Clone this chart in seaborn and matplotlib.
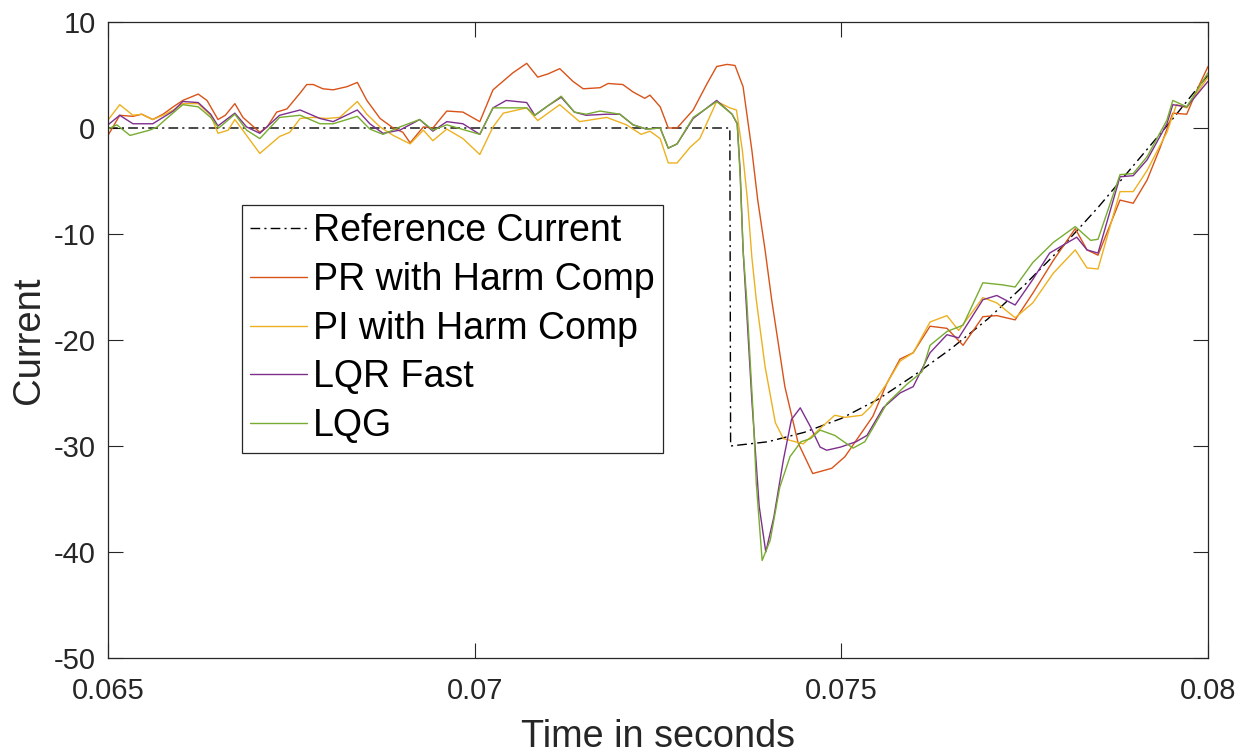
import matplotlib
matplotlib.use("Agg")
import matplotlib.pyplot as plt
import numpy as np
import pandas as pd
import seaborn as sns

# ---------------- data ----------------
t_ref = [0.06500, 0.07348, 0.07349, 0.07400, 0.07450, 0.07500, 0.07550, 0.07600,
         0.07650, 0.07700, 0.07750, 0.07800, 0.07850, 0.07900, 0.07950, 0.08000]
i_ref = [0.0, 0.0, -30.0, -29.6, -28.7, -27.4, -25.6, -23.3,
         -20.8, -18.0, -14.8, -11.3, -7.5, -3.4, 0.7, 5.0]

t_pr = [0.06500, 0.06516, 0.06534, 0.06546, 0.06561, 0.06575, 0.06589, 0.06602, 0.06623, 0.06635,
        0.06650, 0.06660, 0.06673, 0.06684, 0.06707, 0.06717, 0.06730, 0.06744, 0.06762, 0.06771,
        0.06780, 0.06793, 0.06807, 0.06826, 0.06840, 0.06853, 0.06871, 0.06889, 0.06902, 0.06912,
        0.06930, 0.06943, 0.06962, 0.06984, 0.07007, 0.07025, 0.07052, 0.07071, 0.07086, 0.07100,
        0.07116, 0.07134, 0.07148, 0.07171, 0.07182, 0.07202, 0.07216, 0.07232, 0.07239, 0.07253,
        0.07264, 0.07276, 0.07298, 0.07317, 0.07330, 0.07344, 0.07355, 0.07366, 0.07378, 0.07386,
        0.07396, 0.07405, 0.07423, 0.07441, 0.07461, 0.07487, 0.07505, 0.07532, 0.07543, 0.07562,
        0.07580, 0.07598, 0.07621, 0.07644, 0.07666, 0.07693, 0.07712, 0.07737, 0.07761, 0.07789,
        0.07819, 0.07835, 0.07850, 0.07880, 0.07898, 0.07917, 0.07935, 0.07952, 0.07971, 0.07985,
        0.08000]
i_pr = [-0.7, 1.2, 1.1, 1.3, 0.8, 1.3, 2.0, 2.6, 3.2, 2.6,
        0.8, 1.2, 2.3, 1.0, -0.4, 0.1, 1.5, 1.8, 3.3, 4.1,
        4.1, 3.7, 3.6, 3.9, 4.3, 2.6, 0.9, 0.0, -0.4, -1.4,
        0.1, 0.0, 1.6, 1.5, 0.6, 3.6, 5.2, 6.1, 4.8, 5.1,
        5.6, 4.4, 3.7, 3.8, 4.2, 4.1, 3.4, 2.8, 3.1, 2.0,
        0.0, 0.0, 1.7, 4.2, 5.8, 6.0, 5.9, 3.9, -2.1, -6.8,
        -11.5, -16.2, -24.4, -29.7, -32.6, -32.1, -31.0, -28.3, -27.2, -24.1,
        -21.8, -21.2, -18.7, -18.9, -20.5, -17.8, -17.7, -18.1, -15.6, -12.5,
        -9.5, -11.5, -12.0, -6.8, -7.1, -4.9, -1.8, 1.4, 1.3, 3.6,
        5.8]

t_pi = [0.06500, 0.06516, 0.06534, 0.06546, 0.06561, 0.06575, 0.06589, 0.06602, 0.06623, 0.06640,
        0.06650, 0.06664, 0.06673, 0.06689, 0.06707, 0.06734, 0.06748, 0.06762, 0.06780, 0.06798,
        0.06816, 0.06840, 0.06853, 0.06871, 0.06889, 0.06912, 0.06930, 0.06943, 0.06962, 0.06984,
        0.07007, 0.07025, 0.07039, 0.07071, 0.07086, 0.07116, 0.07143, 0.07180, 0.07207, 0.07227,
        0.07239, 0.07253, 0.07264, 0.07276, 0.07294, 0.07307, 0.07330, 0.07348, 0.07357, 0.07365,
        0.07372, 0.07378, 0.07384, 0.07396, 0.07410, 0.07421, 0.07448, 0.07491, 0.07505, 0.07528,
        0.07540, 0.07562, 0.07580, 0.07598, 0.07621, 0.07644, 0.07660, 0.07693, 0.07712, 0.07737,
        0.07761, 0.07789, 0.07819, 0.07835, 0.07850, 0.07880, 0.07898, 0.07917, 0.07944, 0.07957,
        0.07971, 0.08000]
i_pi = [0.75, 2.2, 1.2, 1.3, 0.8, 1.2, 1.7, 2.3, 2.3, 1.2,
        -0.5, -0.2, 0.8, -0.7, -2.4, -0.8, -0.4, 0.9, 1.0, 0.9,
        1.0, 2.5, 1.3, 0.1, -0.7, -1.5, -0.2, -1.2, -0.1, -1.0,
        -2.5, 0.1, 1.4, 1.9, 0.7, 2.2, 0.6, 1.0, 0.3, -0.6,
        -0.3, -1.0, -3.3, -3.3, -1.8, -1.0, 2.5, 1.9, 1.7, -2.1,
        -6.8, -12.2, -16.2, -22.5, -27.8, -29.3, -29.8, -27.1, -27.3, -27.1,
        -26.3, -24.1, -22.0, -21.2, -18.3, -17.7, -19.1, -16.0, -16.5, -17.9,
        -16.5, -13.7, -11.5, -13.2, -13.3, -6.0, -6.0, -4.0, -0.4, 2.2,
        1.9, 4.8]

t_lqr = [0.06500, 0.06516, 0.06534, 0.06561, 0.06575, 0.06589, 0.06602, 0.06623, 0.06640, 0.06650,
         0.06673, 0.06689, 0.06707, 0.06734, 0.06762, 0.06789, 0.06807, 0.06840, 0.06857, 0.06875,
         0.06898, 0.06925, 0.06943, 0.06962, 0.06984, 0.07007, 0.07025, 0.07043, 0.07071, 0.07082,
         0.07100, 0.07118, 0.07136, 0.07152, 0.07180, 0.07198, 0.07216, 0.07234, 0.07253, 0.07264,
         0.07276, 0.07298, 0.07330, 0.07351, 0.07358, 0.07362, 0.07366, 0.07370, 0.07378, 0.07388,
         0.07397, 0.07408, 0.07421, 0.07432, 0.07444, 0.07458, 0.07471, 0.07480, 0.07499, 0.07520,
         0.07535, 0.07557, 0.07580, 0.07598, 0.07621, 0.07644, 0.07660, 0.07693, 0.07712, 0.07737,
         0.07761, 0.07784, 0.07821, 0.07835, 0.07850, 0.07880, 0.07898, 0.07917, 0.07944, 0.07952,
         0.07971, 0.08000]
i_lqr = [0.3, 1.2, 0.4, 0.4, 1.0, 1.6, 2.5, 2.4, 1.3, 0.2,
         1.4, 0.1, -0.5, 1.2, 1.7, 0.9, 0.6, 1.7, 0.4, -0.5,
         -0.2, 0.8, -0.3, 0.6, 0.4, -0.6, 1.9, 2.6, 2.4, 1.2,
         2.1, 2.9, 1.5, 1.2, 1.3, 1.3, 0.3, -0.1, 0.0, -1.9,
         -1.5, 0.9, 2.6, 1.3, 0.4, -4.0, -11.5, -16.2, -25.7, -35.7,
         -40.0, -36.7, -31.3, -27.5, -26.4, -28.2, -30.1, -30.4, -30.1, -29.6,
         -29.0, -26.4, -25.0, -24.4, -21.2, -19.5, -19.8, -16.2, -15.8, -16.7,
         -14.3, -11.8, -10.3, -11.5, -11.8, -4.6, -4.5, -3.0, 0.4, 2.2,
         2.0, 4.4]

t_lqg = [0.06500, 0.06512, 0.06530, 0.06557, 0.06567, 0.06580, 0.06602, 0.06623, 0.06640, 0.06651,
         0.06673, 0.06689, 0.06707, 0.06734, 0.06762, 0.06789, 0.06807, 0.06840, 0.06857, 0.06875,
         0.06898, 0.06925, 0.06943, 0.06962, 0.07007, 0.07025, 0.07043, 0.07071, 0.07082, 0.07100,
         0.07118, 0.07136, 0.07152, 0.07171, 0.07198, 0.07216, 0.07234, 0.07253, 0.07264, 0.07276,
         0.07298, 0.07330, 0.07351, 0.07358, 0.07362, 0.07366, 0.07371, 0.07380, 0.07384, 0.07392,
         0.07403, 0.07416, 0.07430, 0.07445, 0.07458, 0.07471, 0.07491, 0.07516, 0.07532, 0.07543,
         0.07562, 0.07589, 0.07610, 0.07621, 0.07644, 0.07666, 0.07693, 0.07720, 0.07737, 0.07761,
         0.07789, 0.07819, 0.07840, 0.07850, 0.07880, 0.07898, 0.07917, 0.07944, 0.07952, 0.07971,
         0.08000]
i_lqg = [-0.1, 0.3, -0.7, -0.2, 0.1, 0.9, 2.2, 2.0, 1.0, 0.0,
         1.3, -0.2, -1.0, 1.0, 1.2, 0.4, 0.4, 1.1, -0.1, -0.6,
         0.1, 0.8, -0.2, 0.3, -0.6, 1.9, 1.9, 1.9, 1.2, 2.1,
         3.0, 1.5, 1.3, 1.6, 1.3, 0.3, -0.1, 0.0, -1.9, -1.5,
         1.0, 2.5, 1.3, 0.4, -4.5, -11.5, -16.2, -27.3, -33.5, -40.8,
         -38.9, -33.9, -31.0, -29.6, -29.3, -28.5, -29.0, -30.2, -29.6, -28.3,
         -26.0, -24.2, -23.0, -20.5, -19.2, -18.6, -14.6, -14.8, -15.0, -12.7,
         -10.8, -9.3, -10.6, -10.5, -4.4, -4.3, -2.7, 0.75, 2.6, 2.0,
         5.2]

labels = ["Reference Current", "PR with Harm Comp", "PI with Harm Comp", "LQR Fast", "LQG"]
x_ticks = [0.065, 0.07, 0.075, 0.08]
x_tick_labels = ["0.065", "0.07", "0.075", "0.08"]
y_ticks = [-50, -40, -30, -20, -10, 0, 10]

# ---------------- style ----------------
sns.set_theme(style="white")
plt.rcParams["font.family"] = ["Liberation Sans", "DejaVu Sans"]
plt.rcParams["axes.unicode_minus"] = False
dark = "#262626"

fig = plt.figure(figsize=(12.45, 7.56), dpi=100)
ax = fig.add_axes([108 / 1245, 98 / 756, 1100 / 1245, 636 / 756])

series = [
    (t_ref, i_ref, labels[0], "black", (0, (7, 3, 1.5, 3))),
    (t_pr, i_pr, labels[1], "#D95319", "-"),
    (t_pi, i_pi, labels[2], "#EDB120", "-"),
    (t_lqr, i_lqr, labels[3], "#7E2F8E", "-"),
    (t_lqg, i_lqg, labels[4], "#77AC30", "-"),
]
for t, v, lab, col, ls in series:
    df = pd.DataFrame({"t": t, "i": v})
    sns.lineplot(data=df, x="t", y="i", ax=ax, color=col, linewidth=1.0,
                 linestyle=ls, label=lab, estimator=None, sort=False)

ax.set_xlim(0.065, 0.08)
ax.set_ylim(-50, 10)
ax.set_xticks(x_ticks)
ax.set_xticklabels(x_tick_labels)
ax.set_yticks(y_ticks)
ax.tick_params(axis="both", which="both", direction="in", length=11, width=0.8,
               color=dark, labelcolor=dark, labelsize=21,
               top=True, right=True, bottom=True, left=True)
ax.tick_params(axis="x", pad=14)
ax.tick_params(axis="y", pad=9)
for s in ax.spines.values():
    s.set_visible(True)
    s.set_color(dark)
    s.set_linewidth(0.9)

ax.set_xlabel("Time in seconds", fontsize=27.2, color=dark, labelpad=10)
ax.set_ylabel("Current", fontsize=27.5, color=dark, labelpad=5)

leg = ax.legend(loc="upper left", bbox_to_anchor=(134 / 1100, (658 - 205) / 636),
                borderaxespad=0, fontsize=27, frameon=True, fancybox=False,
                edgecolor=dark, framealpha=1, labelspacing=0.34, handlelength=1.5,
                handletextpad=0.17, borderpad=0.22)
leg.get_frame().set_linewidth(0.9)
for txt in leg.get_texts():
    txt.set_color("black")

fig.savefig("out.png", dpi=100)
